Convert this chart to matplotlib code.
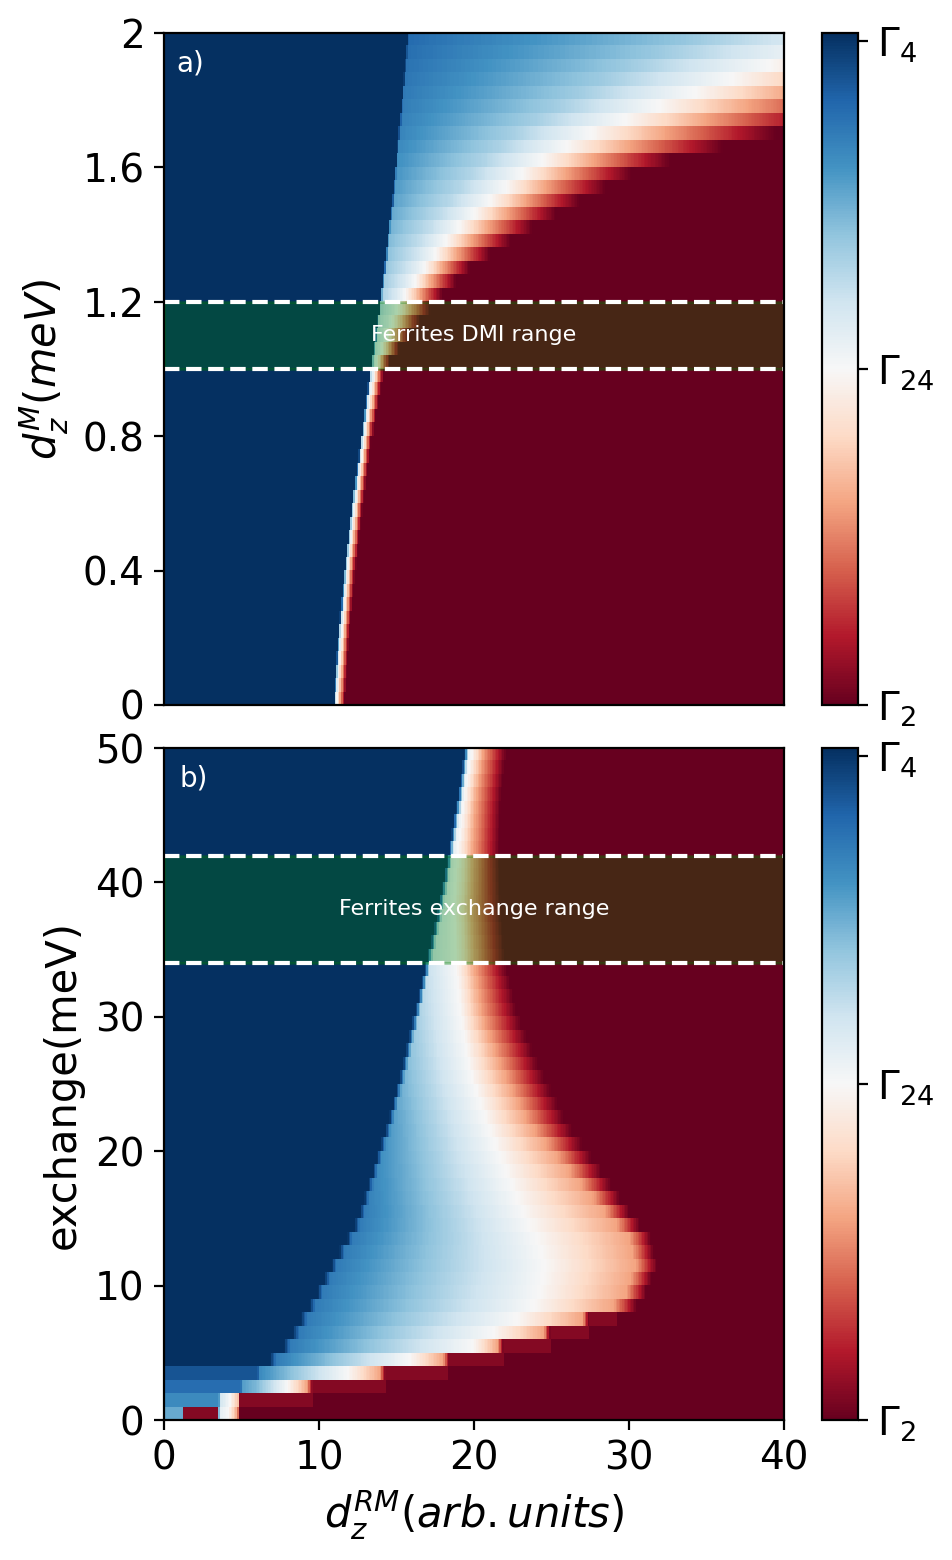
import numpy as np
import matplotlib.pyplot as plt

# ---- panel a: phase boundaries (y = d_z^M in meV, x = d_z^RM) ----
ya = [0.0, 0.2, 0.4, 0.6, 0.8, 1.0, 1.1, 1.2, 1.3, 1.4, 1.5, 1.6, 1.7, 1.8, 1.9, 2.0]
a_blue = [10.9, 11.2, 11.6, 12.1, 12.7, 13.3, 13.6, 13.9, 14.2, 14.4, 14.7, 14.9, 15.1, 15.3, 15.5, 15.7]
a_v0 = [0.6, 0.6, 0.6, 0.6, 0.6, 0.6, 0.62, 0.65, 0.69, 0.73, 0.77, 0.80, 0.83, 0.85, 0.87, 0.89]
a_white = [11.1, 11.4, 11.8, 12.3, 12.9, 13.55, 14.3, 15.2, 16.8, 18.5, 21.0, 23.6, 27.5, 33.0, 39.0, 47.0]
a_red = [11.6, 11.9, 12.3, 12.8, 13.4, 14.2, 15.8, 17.5, 19.7, 23.0, 26.8, 31.0, 39.5, 48.0, 56.0, 64.0]

# ---- panel b: y = exchange (meV) ----
yb = [8.5, 9.5, 11.5, 13.5, 15, 18, 22, 26, 30, 34, 38, 42, 46, 50]
b_blue = [9.4, 9.9, 10.8, 11.8, 12.5, 13.3, 14.4, 15.3, 16.1, 16.9, 17.7, 18.3, 18.9, 19.4]
b_v0 = [0.85, 0.85, 0.85, 0.85, 0.85, 0.82, 0.78, 0.72, 0.66, 0.60, 0.57, 0.55, 0.53, 0.52]
b_white = [23.8, 24.2, 24.5, 24.0, 23.3, 22.2, 20.8, 19.7, 19.1, 18.8, 18.7, 18.9, 19.3, 19.9]
b_salmon = [29.0, 29.8, 30.4, 30.0, 28.8, 26.5, 23.5, 21.8, 20.5, 20.0, 19.8, 19.9, 20.1, 20.6]
b_red = [30.5, 31.1, 31.8, 31.4, 30.3, 28.5, 26.0, 24.3, 22.8, 22.0, 21.7, 21.6, 21.7, 22.1]

# lowest eight exchange rows (0-8 meV), read row by row
low_x = [
    [0.0, 3.5, 3.55, 4.1, 4.7, 4.75],
    [0.0, 3.5, 3.55, 4.2, 4.75, 4.8],
    [0.0, 4.9, 5.0, 6.0, 7.9, 9.2, 9.6],
    [0.0, 6.0, 6.1, 11.8, 13.9, 14.3],
    [0.0, 6.8, 7.2, 15.8, 18.0, 18.4],
    [0.0, 7.7, 8.1, 19.9, 21.5, 21.9],
    [0.0, 8.3, 8.7, 21.2, 24.5, 24.9],
    [0.0, 8.8, 9.2, 22.7, 27.0, 27.4],
]
low_v = [
    [0.75, 0.75, 0.55, 0.5, 0.3, 0.0],
    [0.82, 0.82, 0.60, 0.5, 0.35, 0.0],
    [0.88, 0.88, 0.78, 0.72, 0.5, 0.3, 0.0],
    [0.93, 0.93, 0.82, 0.5, 0.3, 0.0],
    [1.0, 1.0, 0.85, 0.5, 0.3, 0.0],
    [1.0, 1.0, 0.85, 0.5, 0.3, 0.0],
    [1.0, 1.0, 0.85, 0.5, 0.3, 0.0],
    [1.0, 1.0, 0.85, 0.5, 0.3, 0.0],
]
low_mixed = [(1.15, 3.5), (4.8, 9.6), (9.6, 14.3), (14.3, 18.3),
             (18.4, 21.9), (21.9, 24.9), (24.9, 27.4), (27.4, 29.2)]
mixed_value = 0.04

cb_ticks = [0.0, 0.5, 0.988]
cb_labels = [r'$\Gamma_2$', r'$\Gamma_{24}$', r'$\Gamma_4$']

x = np.linspace(0, 40, 400)

# build map a
rows_a = (np.arange(50) + 0.5) * 2 / 50
map_a = np.zeros((len(rows_a), len(x)))
for i, y in enumerate(rows_a):
    xl = np.interp(y, ya, a_blue)
    xw = np.interp(y, ya, a_white)
    v0 = np.interp(y, ya, a_v0)
    # keep the blue side a little fuller before it fades to white
    xm = xl + 0.1 + 0.6 * (xw - xl - 0.1)
    xs = [xl, xl + 0.1, xm, xw, np.interp(y, ya, a_red)]
    vs = [1.0, v0, 0.5 + 0.5 * (v0 - 0.5), 0.5, 0.0]
    map_a[i] = np.interp(x, xs, vs)

# build map b
rows_b = np.arange(50) + 0.5
map_b = np.zeros((len(rows_b), len(x)))
for i, y in enumerate(rows_b):
    if i < len(low_x):
        row = np.interp(x, low_x[i], low_v[i])
        lo, hi = low_mixed[i]
        row[(x >= lo) & (x < hi)] = mixed_value
    else:
        xl = np.interp(y, yb, b_blue)
        xs = [xl, xl + 0.3, np.interp(y, yb, b_white), np.interp(y, yb, b_salmon), np.interp(y, yb, b_red)]
        vs = [1.0, np.interp(y, yb, b_v0), 0.5, 0.3, 0.0]
        row = np.interp(x, xs, vs)
    map_b[i] = row

fig = plt.figure(figsize=(4.76, 7.8), dpi=200)
ax1 = fig.add_axes([0.1723, 0.5481, 0.6513, 0.4308])
ax2 = fig.add_axes([0.1723, 0.0897, 0.6513, 0.4308])
cax1 = fig.add_axes([0.8634, 0.5481, 0.0378, 0.4308])
cax2 = fig.add_axes([0.8634, 0.0897, 0.0378, 0.4308])

im1 = ax1.imshow(map_a, cmap='RdBu', vmin=0, vmax=1, origin='lower', aspect='auto',
                 extent=[0, 40, 0, 2], interpolation='nearest')
im2 = ax2.imshow(map_b, cmap='RdBu', vmin=0, vmax=1, origin='lower', aspect='auto',
                 extent=[0, 40, 0, 50], interpolation='nearest')

# ferrite ranges
ax1.axhspan(1.0, 1.2, color='green', alpha=0.3)
ax1.axhline(1.0, color='white', ls='--', lw=1.5)
ax1.axhline(1.2, color='white', ls='--', lw=1.5)
ax1.text(20, 1.1, 'Ferrites DMI range', color='white', fontsize=8, ha='center', va='center')
ax2.axhspan(34, 42, color='green', alpha=0.3)
ax2.axhline(34, color='white', ls='--', lw=1.5)
ax2.axhline(42, color='white', ls='--', lw=1.5)
ax2.text(20, 38, 'Ferrites exchange range', color='white', fontsize=8, ha='center', va='center')

ax1.text(0.02, 0.955, 'a)', transform=ax1.transAxes, color='white', fontsize=10, va='center')
ax2.text(0.025, 0.955, 'b)', transform=ax2.transAxes, color='white', fontsize=10, va='center')

ax1.set_xlim(0, 40)
ax1.set_ylim(0, 2)
ax1.set_xticks([])
ax1.set_yticks([0, 0.4, 0.8, 1.2, 1.6, 2])
ax1.set_yticklabels(['0', '0.4', '0.8', '1.2', '1.6', '2'])
ax1.set_ylabel(r'$d_z^M(meV)$', fontsize=15)

ax2.set_xlim(0, 40)
ax2.set_ylim(0, 50)
ax2.set_xticks([0, 10, 20, 30, 40])
ax2.set_yticks([0, 10, 20, 30, 40, 50])
ax2.set_ylabel('exchange(meV)', fontsize=15)
ax2.set_xlabel(r'$d_z^{RM}(arb.units)$', fontsize=15)

for ax in (ax1, ax2):
    ax.tick_params(labelsize=14)

for im, cax in ((im1, cax1), (im2, cax2)):
    cb = fig.colorbar(im, cax=cax)
    cb.set_ticks(cb_ticks)
    cb.set_ticklabels(cb_labels)
    cb.ax.tick_params(labelsize=14)

fig.savefig('out.png', dpi=200)
